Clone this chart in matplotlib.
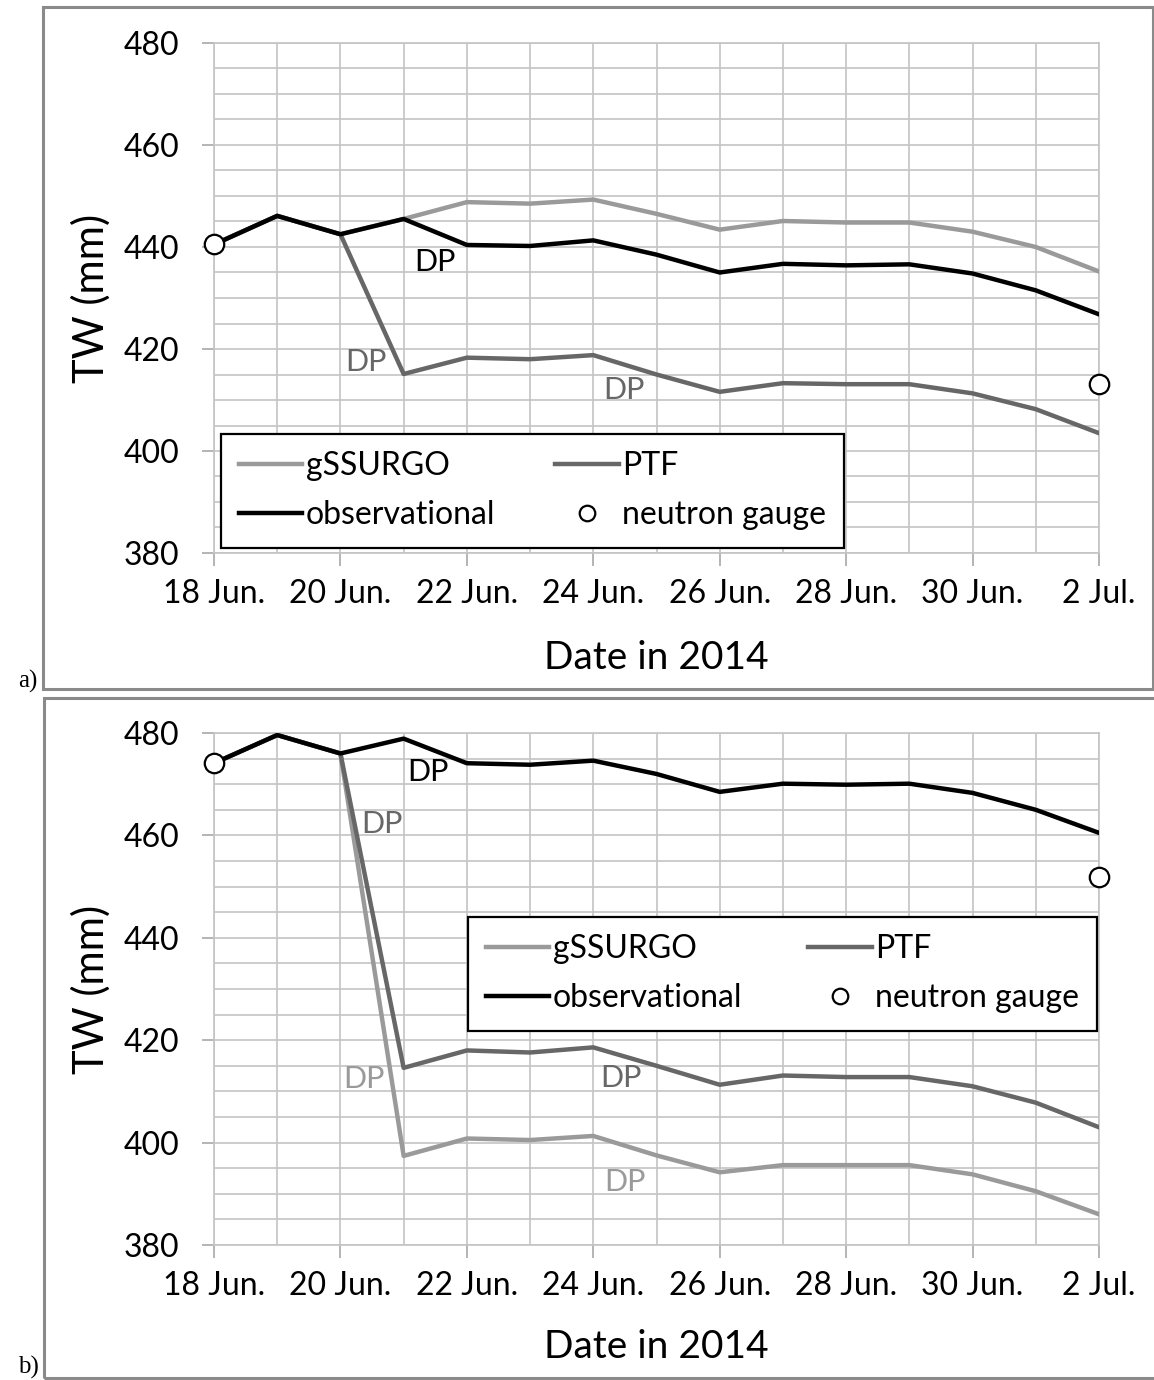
import numpy as np
import matplotlib
matplotlib.use("Agg")
import matplotlib.pyplot as plt
from matplotlib.patches import Rectangle

plt.rcParams['font.family'] = ['Lato', 'DejaVu Sans']

# ---------------- data ----------------
dates = ["18 Jun.", "19 Jun.", "20 Jun.", "21 Jun.", "22 Jun.", "23 Jun.", "24 Jun.",
         "25 Jun.", "26 Jun.", "27 Jun.", "28 Jun.", "29 Jun.", "30 Jun.", "1 Jul.", "2 Jul."]
tick_labels = ["18 Jun.", "20 Jun.", "22 Jun.", "24 Jun.", "26 Jun.", "28 Jun.", "30 Jun.", "2 Jul."]

# panel a
obs_a = [440.5, 446.1, 442.5, 445.5, 440.4, 440.2, 441.3, 438.5, 435.0, 436.7, 436.4, 436.6, 434.8, 431.5, 426.8]
gss_a = [440.5, 446.1, 442.5, 445.5, 448.8, 448.5, 449.3, 446.5, 443.4, 445.1, 444.8, 444.8, 443.0, 440.0, 435.2]
ptf_a = [440.5, 446.1, 442.5, 415.1, 418.3, 418.0, 418.8, 415.0, 411.6, 413.3, 413.1, 413.1, 411.3, 408.2, 403.5]
ng_a_dates = ["18 Jun.", "2 Jul."]
ng_a = [440.5, 413.1]

# panel b
obs_b = [474.1, 479.6, 476.0, 478.9, 474.1, 473.8, 474.6, 472.0, 468.5, 470.1, 469.9, 470.1, 468.3, 465.0, 460.5]
gss_b = [474.1, 479.6, 476.0, 397.4, 400.8, 400.5, 401.3, 397.5, 394.2, 395.6, 395.6, 395.6, 393.8, 390.5, 386.0]
ptf_b = [474.1, 479.6, 476.0, 414.6, 418.0, 417.6, 418.6, 415.0, 411.3, 413.1, 412.8, 412.8, 411.0, 407.8, 403.0]
ng_b_dates = ["18 Jun.", "2 Jul."]
ng_b = [474.1, 451.9]

# "DP" annotations: (x index, y value, series)
dp_a = [(3.50, 437.1, "obs"), (2.40, 417.5, "ptf"), (6.48, 412.0, "ptf")]
dp_b = [(3.38, 472.4, "obs"), (2.66, 462.2, "ptf"), (2.37, 412.4, "gss"),
        (6.44, 412.6, "ptf"), (6.50, 392.3, "gss")]

# ---------------- style ----------------
W, H = 1154, 1380
C_GSS = "#9a9a9a"
C_PTF = "#676767"
C_OBS = "#000000"
C_GRID = "#c4c4c4"
LW = 3.2
FS = 23
colors = {"obs": C_OBS, "ptf": C_PTF, "gss": C_GSS}

fig = plt.figure(figsize=(W / 100, H / 100), dpi=100)


def px_axes(left, top, right, bottom):
    return fig.add_axes([left / W, 1 - bottom / H, (right - left) / W, (bottom - top) / H])


def frame(x0, y0, x1, y1):
    fig.add_artist(Rectangle((x0 / W, 1 - y1 / H), (x1 - x0) / W, (y1 - y0) / H,
                             transform=fig.transFigure, fill=False,
                             edgecolor="#8a8a8a", linewidth=2.2, zorder=0))


frame(43, 7, 1153, 689)
frame(44, 698, 1160, 1378)


def make_panel(ax, gss, ptf, obs, ng_dates, ng, dps, leg_bbox, xlabel_y):
    x = np.arange(len(dates))
    xng = [dates.index(d) for d in ng_dates]
    ax.plot(x, gss, color=C_GSS, lw=LW, label="gSSURGO", zorder=3, solid_joinstyle="round")
    ax.plot(x, ptf, color=C_PTF, lw=LW, label="PTF", zorder=3, solid_joinstyle="round")
    ax.plot(x, obs, color=C_OBS, lw=LW, label="observational", zorder=4, solid_joinstyle="round")
    ax.plot(xng, ng, linestyle="none", marker="o", ms=14, mfc="white", mec="black",
            mew=1.6, label="neutron gauge", zorder=5, clip_on=False)

    ax.set_xlim(0, len(dates) - 1)
    ax.set_ylim(380, 480)
    ax.set_xticks([dates.index(t) for t in tick_labels])
    ax.set_xticklabels(tick_labels)
    ax.set_xticks(x, minor=True)
    ax.set_yticks(np.arange(380, 481, 20))
    ax.set_yticks(np.arange(380, 481, 5), minor=True)
    ax.grid(True, which="both", color=C_GRID, lw=1.2, zorder=0)
    ax.set_axisbelow(True)
    for s in ax.spines.values():
        s.set_color(C_GRID)
        s.set_linewidth(1.2)
    ax.tick_params(axis="both", which="major", length=9, width=1.2, color="#a8a8a8",
                   labelsize=FS, direction="out")
    ax.tick_params(axis="y", which="major", pad=16)
    ax.tick_params(axis="x", which="major", pad=10)
    ax.tick_params(which="minor", length=0)

    ax.set_ylabel("TW (mm)", fontsize=30)
    ax.yaxis.set_label_coords(-0.117, 0.5)
    ax.set_xlabel("Date in 2014", fontsize=28)
    ax.xaxis.set_label_coords(0.5, xlabel_y)

    for dx, dy, s in dps:
        ax.text(dx, dy, "DP", color=colors[s], fontsize=22, ha="center", va="center", zorder=6)

    h, l = ax.get_legend_handles_labels()
    order = [0, 2, 1, 3]
    leg = ax.legend([h[i] for i in order], [l[i] for i in order], ncol=2,
                    loc="lower left", bbox_to_anchor=leg_bbox, mode="expand",
                    fontsize=FS, frameon=True, fancybox=False, framealpha=1,
                    edgecolor="black", handlelength=2.0, handletextpad=0.1,
                    borderaxespad=0, borderpad=0.55, labelspacing=0.6,
                    columnspacing=1.0, markerscale=0.8)
    leg.get_frame().set_linewidth(1.6)
    leg.set_zorder(7)


ax_a = px_axes(214, 43, 1099, 553)
make_panel(ax_a, gss_a, ptf_a, obs_a, ng_a_dates, ng_a, dp_a,
           (7 / 885, 5 / 510, 623 / 885, 118 / 510), -0.170)

ax_b = px_axes(214, 733, 1099, 1245)
make_panel(ax_b, gss_b, ptf_b, obs_b, ng_b_dates, ng_b, dp_b,
           (254 / 885, 214 / 512, 629 / 885, 114 / 512), -0.165)

fig.text(18 / W, 1 - 688 / H, "a)", fontsize=18, family="Liberation Serif", ha="left", va="baseline")
fig.text(18 / W, 1 - 1374 / H, "b)", fontsize=18, family="Liberation Serif", ha="left", va="baseline")

fig.savefig("out.png", dpi=100)
